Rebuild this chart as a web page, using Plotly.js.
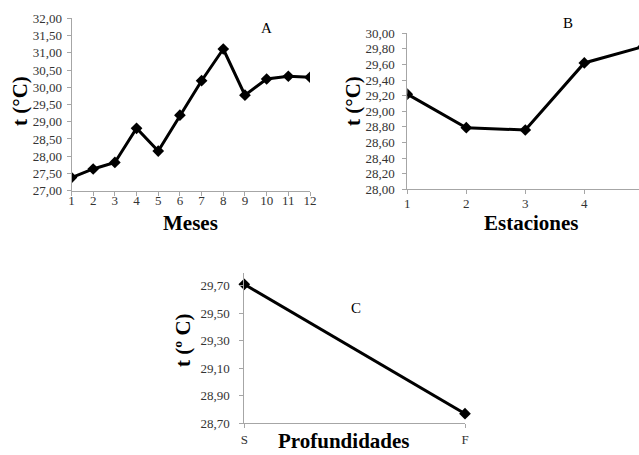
<!DOCTYPE html>
<html>
<head>
<meta charset="utf-8">
<script src="https://cdn.plot.ly/plotly-3.0.1.min.js"></script>
<style>html,body{margin:0;padding:0;background:#fff;}#chart{width:639px;height:455px;}</style>
</head>
<body>
<div id="chart"></div>
<script>
// Panel A: monthly temperature
const meses = [1, 2, 3, 4, 5, 6, 7, 8, 9, 10, 11, 12];
const tempMeses = [27.38, 27.63, 27.82, 28.81, 28.15, 29.19, 30.19, 31.11, 29.77, 30.24, 30.32, 30.29];
// Panel B: temperature by station
const estaciones = [1, 2, 3, 4, 5];
const tempEstaciones = [29.22, 28.79, 28.76, 29.62, 29.83];
// Panel C: temperature by depth
const profundidades = ['S', 'F'];
const tempProfundidades = [29.71, 28.77];

const FONT = 'Liberation Serif, Times New Roman, serif';
const AX = '#a6a6a6';
const TICKF = {family: FONT, size: 13, color: '#333'};

const lineStyle = {color: '#000', width: 3};
const markerStyle = {symbol: 'diamond', size: 9, color: '#000'};

const traces = [
  {x: meses, y: tempMeses, xaxis: 'x', yaxis: 'y', mode: 'lines+markers', line: lineStyle, marker: markerStyle, cliponaxis: true},
  {x: estaciones, y: tempEstaciones, xaxis: 'x2', yaxis: 'y2', mode: 'lines+markers', line: lineStyle, marker: markerStyle, cliponaxis: true},
  {x: profundidades, y: tempProfundidades, xaxis: 'x3', yaxis: 'y3', mode: 'lines+markers', line: lineStyle, marker: markerStyle, cliponaxis: false}
];

function xax(domain, extra) {
  return Object.assign({
    domain: domain, showline: true, linecolor: AX, linewidth: 1, showgrid: false, zeroline: false,
    ticks: 'outside', ticklen: 4, tickcolor: AX, tickfont: TICKF, fixedrange: true
  }, extra);
}
function yax(domain, extra) {
  return Object.assign({
    domain: domain, showline: true, linecolor: AX, linewidth: 1, showgrid: false, zeroline: false,
    ticks: 'outside', ticklen: 4, tickcolor: AX, tickfont: TICKF, tickformat: '.2f', fixedrange: true
  }, extra);
}

const W = 639, H = 455;
const px = v => v / W;
const py = v => 1 - v / H;

function note(text, x, y, size, angle) {
  return {text: text, x: px(x), y: py(y), xref: 'paper', yref: 'paper', xanchor: 'center', yanchor: 'middle',
          showarrow: false, textangle: angle || 0, font: {family: FONT, size: size, color: '#000'}};
}

const layout = {
  width: W, height: H,
  margin: {l: 0, r: 0, t: 0, b: 0},
  paper_bgcolor: '#fff', plot_bgcolor: 'rgba(0,0,0,0)',
  showlegend: false,
  separators: ', ',
  font: {family: FONT, color: '#000'},
  xaxis: xax([px(71.5), px(310)], {anchor: 'y', range: [1, 12], dtick: 1, tick0: 1, ticklabelstandoff: -6}),
  yaxis: yax([py(190.7), py(18.3)], {anchor: 'x', range: [27, 32], dtick: 0.5, tick0: 27, ticklabelstandoff: 2}),
  xaxis2: xax([px(407.3), 1], {anchor: 'y2', range: [1, 4.927], dtick: 1, tick0: 1, ticklabelstandoff: -2}),
  yaxis2: yax([py(189.3), py(33.3)], {anchor: 'x2', range: [28, 30], dtick: 0.2, tick0: 28, ticklabelstandoff: 5}),
  xaxis3: xax([px(244.3), px(465)], {anchor: 'y3', type: 'category', range: [0, 1], ticklabelstandoff: 0}),
  yaxis3: yax([py(423.3), py(273.3)], {anchor: 'x3', range: [28.7, 29.79], dtick: 0.2, tick0: 28.7, ticklabelstandoff: 7}),
  annotations: [
    note('A', 266, 28, 15),
    note('B', 568, 23, 15),
    note('C', 356, 308, 15),
    note('<b>Meses</b>', 190, 223, 21),
    note('<b>Estaciones</b>', 531, 223, 21),
    note('<b>Profundidades</b>', 344, 441, 21),
    note('<b>t (°C)</b>', 20, 101, 21, -90),
    note('<b>t (°C)</b>', 353, 101, 21, -90),
    note('<b>t (º C)</b>', 183, 340, 21, -90)
  ]
};

Plotly.newPlot('chart', traces, layout, {displayModeBar: false, staticPlot: true});
</script>
</body>
</html>
